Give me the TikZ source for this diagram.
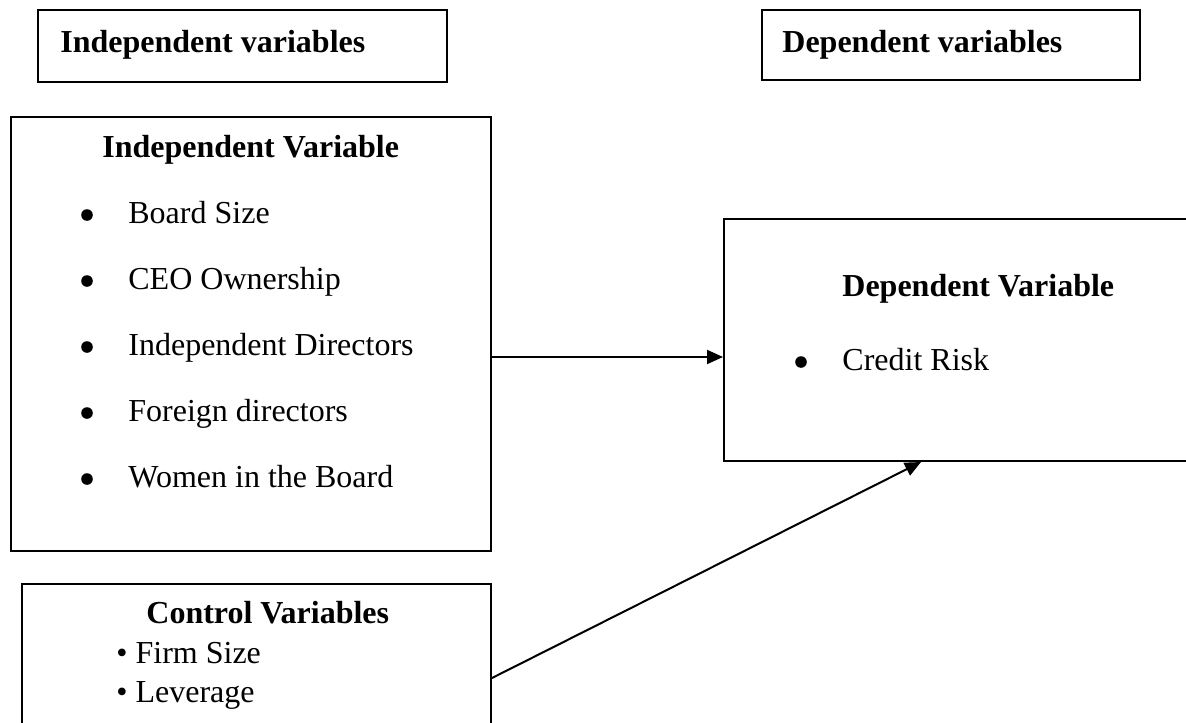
\documentclass[tikz,border=0pt]{standalone}
\usepackage{fontspec}
\setmainfont{Liberation Serif}
\usetikzlibrary{arrows.meta,fit}

\tikzset{
  box/.style={draw, line width=1pt, inner sep=0pt},
  lbl/.style={anchor=base west, inner sep=0pt, font=\fontsize{16pt}{19pt}\selectfont},
  hdr/.style={lbl, font=\fontsize{16pt}{19pt}\selectfont\bfseries},
  dot/.style={circle, fill, inner sep=0pt, minimum size=5.8pt},
  arr/.style={line width=1pt, -{Triangle[length=8pt,width=7pt]}}
}

\begin{document}
\begin{tikzpicture}[x=0.5pt,y=-0.5pt]
\clip (0,0) rectangle (1186,722); % taille de la page
% en-tetes
\node[box, fit={(38,10) (447,82)}] (hdrIndep) {};
\node[box, fit={(762,10) (1140,80)}] (hdrDep) {};
\node[hdr] (tIndep) at (60,53) {Independent variables};
\node[hdr] (tDep) at (782,53) {Dependent variables};
% variables independantes
\node[box, fit={(11,117) (491,551)}] (indep) {};
\node[hdr] (indepTitle) at (102,157) {Independent Variable};
\foreach \txt [count=\i] in {Board Size, CEO Ownership, Independent Directors, Foreign directors, Women in the Board}{
  \node[dot] (b\i) at (87,149+66*\i) {};
  \node[lbl] (v\i) at (128,157+66*\i) {\txt};
}
% variable dependante
\node[box, fit={(724,219) (1200,461)}] (dep) {};
\node[hdr] (depTitle) at (842,296) {Dependent Variable};
\node[dot] (bDep) at (801,362) {};
\node[lbl] (vDep) at (842,370) {Credit Risk};
% variables de controle
\node[box, fit={(22,584) (491,740)}] (ctrl) {};
\node[hdr] (ctrlTitle) at (146,623) {Control Variables};
\node[lbl] (c1) at (116,663) {\textbullet{} Firm Size};
\node[lbl] (c2) at (116,702) {\textbullet{} Leverage};
% fleches
\coordinate (hIn) at ([yshift=-11.5pt]indep.east);
\draw[arr] (hIn) -- (hIn -| dep.west);
\coordinate (cOut) at ([yshift=-8pt]ctrl.east);
\draw[arr] (cOut) -- ([xshift=99pt]dep.south west);
\end{tikzpicture}
\end{document}
